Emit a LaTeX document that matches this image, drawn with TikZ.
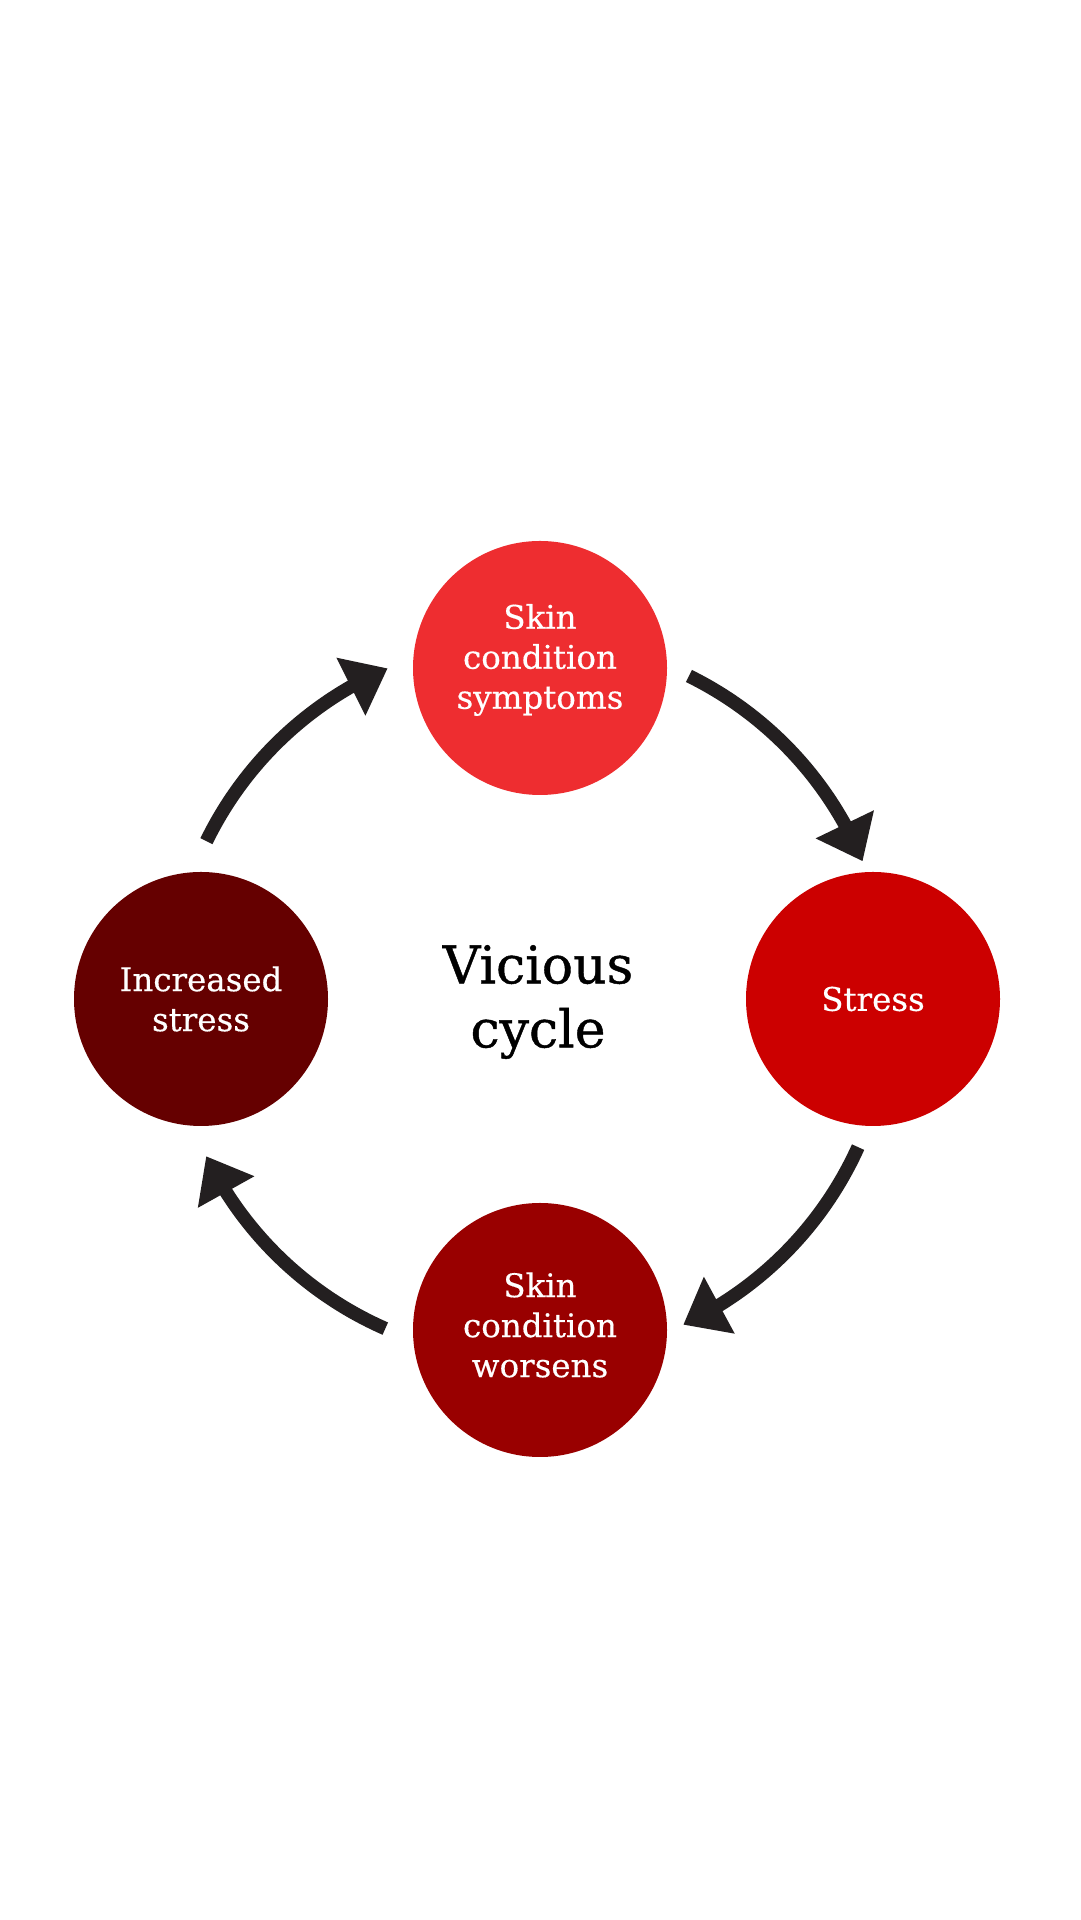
\documentclass[tikz,border=0pt]{standalone}
\usepackage{fontspec}
\setmainfont{DejaVu Serif}
\newfontfamily\titlefont[FakeBold=0.8]{DejaVu Serif}
\newfontfamily\lblfont[FakeBold=0.4]{DejaVu Serif}
\usetikzlibrary{arrows.meta,bending}
\definecolor{cTop}{HTML}{EE2D30}
\definecolor{cRight}{HTML}{CC0000}
\definecolor{cBottom}{HTML}{990000}
\definecolor{cLeft}{HTML}{650000}
\definecolor{arrowc}{HTML}{231F20}
\begin{document}
\begin{tikzpicture}[x=1pt,y=1pt,
  circ/.style={circle, minimum size=254pt, inner sep=0pt, draw=none},
  lbl/.style={text=white, align=center, font=\lblfont\fontsize{32.5}{40}\selectfont},
  titlelbl/.style={text=black, align=center, font=\titlefont\fontsize{52}{64}\selectfont},
  cyc/.style={line width=13.5pt, draw=arrowc, -{Triangle[length=41pt,width=62pt,flex]}},
]
\fill[white] (0,0) rectangle (1080,1920);
\useasboundingbox (0,0) rectangle (1080,1920);
\coordinate (c) at (530,921);
\node[circ, fill=cTop] (top) at (540,1252) {};
\node[circ, fill=cRight] (right) at (873,921) {};
\node[circ, fill=cBottom] (bottom) at (540,590) {};
\node[circ, fill=cLeft] (left) at (201,921) {};
\node[lbl] (topl) at ([yshift=8pt]top) {Skin\\condition\\symptoms};
\node[lbl] (rightl) at (right) {Stress};
\node[lbl] (bottoml) at ([yshift=5pt]bottom) {Skin\\condition\\worsens};
\node[lbl] (leftl) at (left) {Increased\\stress};
\node[titlelbl] (title) at (538,918) {Vicious\\cycle};
\draw[cyc] ([shift={(63.8:360pt)}]c) arc[start angle=63.8, end angle=22.5, radius=360pt];
\draw[cyc] ([shift={(-24.3:360pt)}]c) arc[start angle=-24.3, end angle=-64.8, radius=360pt];
\draw[cyc] ([shift={(246.3:360pt)}]c) arc[start angle=246.3, end angle=205.9, radius=360pt];
\draw[cyc] ([shift={(154:360pt)}]c) arc[start angle=154, end angle=113.3, radius=360pt];
\end{tikzpicture}
\end{document}
